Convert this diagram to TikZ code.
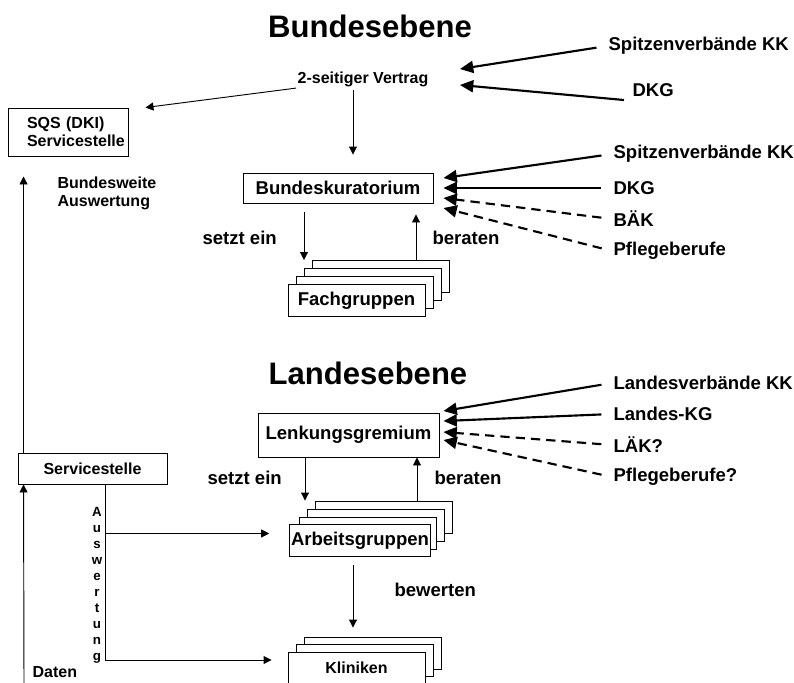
\documentclass[tikz,border=0pt]{standalone}
\usepackage{fontspec}
\setmainfont{Liberation Sans}
\usepackage{tikz}
\usetikzlibrary{arrows.meta, positioning}

\hfuzz=40pt
\newcommand\titlefont{\fontsize{23.3}{28}\selectfont\bfseries}
\newcommand\lblfont{\fontsize{13.9}{16}\selectfont\bfseries}
\newcommand\smallfont{\fontsize{12}{13.5}\selectfont\bfseries}
\newcommand\letterfont{\fontsize{10}{12}\selectfont\bfseries}

\begin{document}
\begin{tikzpicture}[
    x=0.75pt, y=-0.75pt,
    box/.style={draw, fill=white, line width=0.7pt, inner sep=1pt},
    stack/.style={box, minimum width=102.75pt, minimum height=24pt},
    lbl/.style={font=\lblfont, inner sep=1pt},
    arr/.style={-{Triangle[length=6pt, width=6pt]}, line width=0.7pt},
    feed/.style={-{Triangle[length=10pt, width=9pt]}, line width=1.6pt, shorten <=8pt},
    soft/.style={feed, dash pattern=on 7pt off 4.5pt}
  ]
    \useasboundingbox (0,0) rectangle (794,683);
    \clip (0,0) rectangle (794,683);

    % Bundesebene
    \node[font=\titlefont] (bund) at (370,26) {Bundesebene};
    \node[font=\smallfont, inner sep=1pt] (vertrag) at (363,79) {2-seitiger Vertrag};
    \node[lbl, anchor=west] (spv1) at (607,46) {Spitzenverbände KK};
    \node[lbl, anchor=west] (dkg1) at (631,90) {DKG};

    \node[box, font=\smallfont, align=left, text width=61.5pt, inner xsep=14.25pt,
          minimum height=36pt] (sqs) at (68,132) {SQS (DKI)\\Servicestelle};
    \node[font=\smallfont, align=left, anchor=west, inner sep=1pt] (bwa) at (56,193) {Bundesweite\\Auswertung};

    \node[box, lbl, minimum width=142.5pt, minimum height=22.5pt] (bk) at (338,188) {Bundeskuratorium};
    \node[lbl, anchor=west] (spv2) at (612,154) {Spitzenverbände KK};
    \node[lbl, anchor=west] (dkg2) at (612,188) {DKG};
    \node[lbl, anchor=west] (baek) at (612,219) {BÄK};
    \node[lbl, anchor=west] (pfl1) at (612,251) {Pflegeberufe};

    \node[lbl, anchor=west] (setzt1) at (201,238) {setzt ein};
    \node[lbl, anchor=west] (berat1) at (431,238) {beraten};

    \node[stack] (fg3) at (380.5,276.5) {};
    \node[stack] (fg2) at (372.5,284.5) {};
    \node[stack] (fg1) at (364.5,292.5) {};
    \node[stack, lbl] (fg) at (356.5,300.5) {Fachgruppen};

    \draw[feed] (spv1.west) -- ([shift={(30,-10)}]vertrag.east);
    \draw[feed, shorten <=0pt] ([shift={(-7,10)}]dkg1.west) -- ([shift={(30,6)}]vertrag.east);
    \draw[arr] (vertrag.south west) -- ([shift={(17,0)}]sqs.north east);
    \draw[arr] ([shift={(-10,2)}]vertrag.south) -- ([shift={(15,-18)}]bk.north);

    \draw[feed] (spv2.west) -- ([shift={(10,-10)}]bk.east);
    \draw[feed] (dkg2.west) -- ([shift={(10,0)}]bk.east);
    \draw[soft] (baek.west) -- ([shift={(10,10)}]bk.east);
    \draw[soft] (pfl1.west) -- ([shift={(10,20)}]bk.east);

    \coordinate (bkdown) at ([shift={(-34,9)}]bk.south);
    \coordinate (bkup) at ([shift={(78,11)}]bk.south);
    \draw[arr] (bkdown) -- (bkdown |- fg3.north);
    \draw[arr] (bkup |- fg3.north) -- (bkup);

    % Landesebene
    \node[font=\titlefont] (land) at (368,373) {Landesebene};
    \node[box, lbl, minimum width=135.75pt, minimum height=33pt] (lg) at (348.5,435) {Lenkungsgremium};
    \node[lbl, anchor=west] (lv) at (612,383) {Landesverbände KK};
    \node[lbl, anchor=west] (lkg) at (612,414) {Landes-KG};
    \node[lbl, anchor=west] (laek) at (612,445) {LÄK?};
    \node[lbl, anchor=west] (pfl2) at (612,477) {Pflegeberufe?};

    \node[lbl, anchor=west] (setzt2) at (206,478) {setzt ein};
    \node[lbl, anchor=west] (berat2) at (433,478) {beraten};
    \node[lbl, anchor=west] (bewert) at (393,590) {bewerten};

    \node[stack] (ag3) at (384,517) {};
    \node[stack] (ag2) at (375.5,525) {};
    \node[stack] (ag1) at (367.5,533) {};
    \node[stack, lbl] (ag) at (360,540.5) {Arbeitsgruppen};

    \node[stack] (kl2) at (372.5,653) {};
    \node[stack] (kl1) at (365,660.5) {};
    \node[stack, font=\smallfont] (kl) at (356.5,668) {Kliniken};

    \draw[feed] (lv.west) -- ([shift={(4,-24)}]lg.east);
    \draw[feed] (lkg.west) -- ([shift={(4,-14)}]lg.east);
    \draw[soft] (laek.west) -- ([shift={(4,-3)}]lg.east);
    \draw[soft] (pfl2.west) -- ([shift={(4,5)}]lg.east);

    \coordinate (lgdown) at ([shift={(-43.5,0)}]lg.south);
    \coordinate (lgup) at ([shift={(68.5,0)}]lg.south);
    \draw[arr] (lgdown) -- (lgdown |- ag3.north);
    \draw[arr] (lgup |- ag3.north) -- (lgup);

    \coordinate (agdown) at ([shift={(-7,8)}]ag.south);
    \draw[arr, shorten >=6.75pt] (agdown) -- (agdown |- kl2.north);

    % Servicestelle (Land)
    \node[box, font=\smallfont, minimum width=111.75pt, minimum height=23.25pt] (svc) at (92.5,468.5) {Servicestelle};
    \node[font=\letterfont, align=center, inner sep=0pt] (ausw) at (97,585) {A\\u\\s\\w\\e\\r\\t\\u\\n\\g};
    \node[font=\smallfont, anchor=west, inner sep=1pt] (daten) at (31,672) {Daten};

    \coordinate (auswtop) at ([shift={(12.5,0)}]svc.south);
    \draw[arr] (auswtop) |- ([shift={(-20,-7)}]ag.west);
    \draw[arr] (auswtop) |- ([shift={(-16,-8)}]kl.west);

    \coordinate (datenfoot) at (24,683);
    \draw[arr] (datenfoot) -- ([shift={(6,0)}]svc.south west);
    \draw[arr] ([shift={(6,0)}]svc.north west) -- ([shift={(16,20)}]sqs.south west);
  \end{tikzpicture}
\end{document}
